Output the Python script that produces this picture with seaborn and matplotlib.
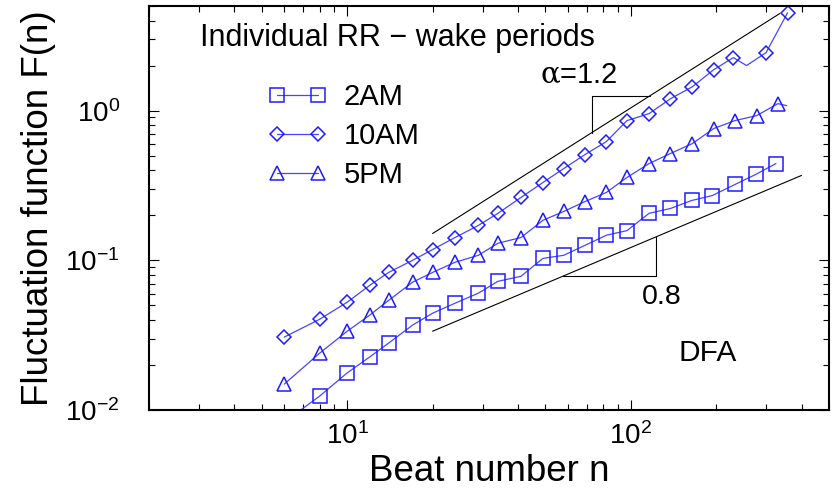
import numpy as np
import pandas as pd
import seaborn as sns
import matplotlib.pyplot as plt
from matplotlib.lines import Line2D
from matplotlib.ticker import FixedLocator, NullFormatter, LogLocator

# 2AM (squares)
n_2am = [6, 8, 10, 12, 14, 17, 20, 24, 29, 34, 41, 49, 58, 69, 82, 97, 116, 138, 164, 194, 233, 276, 325]
f_2am = [0.0083, 0.0124, 0.0177, 0.0226, 0.028, 0.0369, 0.0443, 0.0517, 0.0603, 0.0724, 0.0782, 0.103,
         0.108, 0.126, 0.147, 0.158, 0.206, 0.222, 0.251, 0.271, 0.321, 0.375, 0.443]
mark_2am = [True] * len(n_2am)

# 10AM (diamonds), one unmarked point on the line
n_10am = [6, 8, 10, 12, 14, 17, 20, 24, 29, 34, 41, 49, 58, 69, 82, 97, 116, 138, 165, 196, 230, 256, 300, 357]
f_10am = [0.0307, 0.0404, 0.0525, 0.068, 0.083, 0.1, 0.118, 0.142, 0.171, 0.206, 0.263, 0.331, 0.41,
          0.509, 0.621, 0.858, 0.955, 1.20, 1.445, 1.876, 2.26, 2.0, 2.44, 4.5]
mark_10am = [True] * 21 + [False, True, True]

# 5PM (triangles), line runs on past the last marker
n_5pm = [6, 8, 10, 12, 14, 17, 20, 24, 29, 34, 41, 49, 58, 69, 82, 97, 116, 138, 165, 196, 233, 278, 330, 355]
f_5pm = [0.0149, 0.024, 0.0336, 0.043, 0.054, 0.0714, 0.083, 0.097, 0.108, 0.13, 0.142, 0.185, 0.212,
         0.247, 0.284, 0.358, 0.443, 0.517, 0.603, 0.759, 0.858, 0.926, 1.113, 1.08]
mark_5pm = [True] * 23 + [False]

# guide lines and slope brackets
slope_hi_n = [20, 335]
slope_hi_f = [0.151, 4.45]
slope_lo_n = [20, 400]
slope_lo_f = [0.0336, 0.369]
brk_hi_n = [73, 73, 117]
brk_hi_f = [0.713, 1.259, 1.259]
brk_lo_n = [57.5, 122.5, 122.5]
brk_lo_f = [0.0782, 0.0782, 0.143]

labels = ["2AM", "10AM", "5PM"]
markers = ["s", "D", "^"]
msizes = [9.5, 7.2, 10.5]

sns.set_style("ticks", rc={"axes.edgecolor": "black", "text.color": "black",
                           "axes.labelcolor": "black", "xtick.color": "black",
                           "ytick.color": "black"})
plt.rcParams["font.family"] = ["Liberation Sans", "DejaVu Sans"]
plt.rcParams["mathtext.fontset"] = "custom"
plt.rcParams["mathtext.rm"] = "Liberation Sans"
plt.rcParams["mathtext.it"] = "DejaVu Serif"

line_c = "#4646ff"
mark_c = "#1c1cff"

fig = plt.figure(figsize=(8.39, 4.93), dpi=100)
ax = fig.add_axes([149 / 839, 83 / 493, 680 / 839, 404 / 493])

series = [(n_2am, f_2am, mark_2am), (n_10am, f_10am, mark_10am), (n_5pm, f_5pm, mark_5pm)]
for (n, f, m), mk, ms in zip(series, markers, msizes):
    df = pd.DataFrame({"n": n, "F": f, "marked": m})
    sns.lineplot(data=df, x="n", y="F", ax=ax, color=line_c, lw=0.9,
                 estimator=None, sort=False)
    sns.lineplot(data=df[df["marked"]], x="n", y="F", ax=ax, color=mark_c,
                 estimator=None, sort=False, linestyle="none", marker=mk,
                 ms=ms, mfc="none", mec=mark_c, mew=1.1)

for bn, bf in [(slope_hi_n, slope_hi_f), (slope_lo_n, slope_lo_f),
               (brk_hi_n, brk_hi_f), (brk_lo_n, brk_lo_f)]:
    sns.lineplot(x=bn, y=bf, ax=ax, color="black", lw=0.8, estimator=None, sort=False)

ax.set_xscale("log")
ax.set_yscale("log")
ax.set_xlim(2, 500)
ax.set_ylim(0.01, 5)

ax.xaxis.set_major_locator(FixedLocator([10, 100]))
ax.set_xticklabels([r"$10^{1}$", r"$10^{2}$"])
ax.yaxis.set_major_locator(FixedLocator([0.01, 0.1, 1]))
ax.set_yticklabels([r"$10^{-2}$", r"$10^{-1}$", r"$10^{0}$"])
for axis in (ax.xaxis, ax.yaxis):
    axis.set_minor_locator(LogLocator(base=10, subs=np.arange(2, 10)))
    axis.set_minor_formatter(NullFormatter())

ax.tick_params(which="both", direction="in", top=True, right=True, width=0.8)
ax.tick_params(which="major", length=7, labelsize=20)
ax.tick_params(axis="x", which="major", pad=9)
ax.tick_params(axis="y", which="major", pad=21)
ax.tick_params(which="minor", length=4)
for sp in ax.spines.values():
    sp.set_linewidth(1.5)

ax.set_xlabel("Beat number n", fontsize=26.5, labelpad=3)
ax.set_ylabel("Fluctuation function F(n)", fontsize=26.5, labelpad=7)

ax.text(0.075, 0.921, "Individual RR \u2212 wake periods", transform=ax.transAxes,
        fontsize=22, ha="left", va="center")
ax.text(0.632, 0.829, r"$\alpha$=1.2", transform=ax.transAxes, fontsize=21,
        ha="center", va="center")
ax.text(0.754, 0.280, "0.8", transform=ax.transAxes, fontsize=20.5, ha="center", va="center")
ax.text(0.822, 0.141, "DFA", transform=ax.transAxes, fontsize=21.5, ha="center", va="center")

handles = [Line2D([], [], color=line_c, lw=0.9, marker=mk, ms=ms, mfc="none",
                  mec=mark_c, mew=1.1) for mk, ms in zip(markers, msizes)]
ax.legend(handles, labels, loc="center left", bbox_to_anchor=(0.175, 0.678),
          frameon=False, fontsize=21, numpoints=2, handlelength=2.0,
          handletextpad=0.6, labelspacing=0.37, borderpad=0, borderaxespad=0)

fig.savefig("out.png", dpi=100)
